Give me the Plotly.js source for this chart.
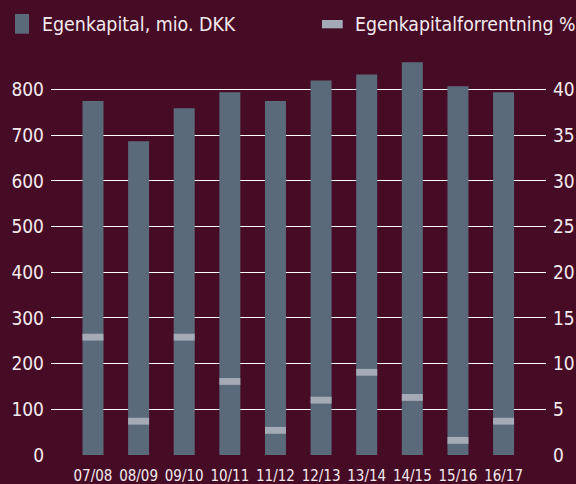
<!DOCTYPE html>
<html>
<head>
<meta charset="utf-8">
<script src="https://cdn.plot.ly/plotly-3.0.1.min.js"></script>
<style>html,body{margin:0;padding:0;background:#470c25;}#chart{width:576px;height:484px;}
#chart text{font-stretch:condensed !important;}</style>
</head>
<body>
<div id="chart"></div>
<script>
const categories = ["07/08","08/09","09/10","10/11","11/12","12/13","13/14","14/15","15/16","16/17"];
const equity = [775, 687, 759, 794, 775, 820, 833, 860, 807, 794];
const roe = [12.9, 3.7, 12.9, 8.05, 2.7, 6.0, 9.05, 6.3, 1.6, 3.7];
const leftTicks = [0,100,200,300,400,500,600,700,800];
const rightTicks = [0,5,10,15,20,25,30,35,40];
const legendLabels = ["Egenkapital, mio. DKK", "Egenkapitalforrentning %"];

const BG = "#470c25";
const BAR = "#5b6a7b";
const MARK = "#a4aab6";
const TXT = "#f3eaee";
const FONT = "'DejaVu Sans Condensed', 'DejaVu Sans', sans-serif";
const markH = 0.75;

const traces = [
  {type:"bar", x:categories, y:equity, marker:{color:BAR, line:{width:0}}, width:0.46, yaxis:"y", showlegend:false, hoverinfo:"skip"},
  {type:"bar", x:categories, y:roe.map(()=>markH), base:roe.map(v=>v-markH/2), marker:{color:MARK, line:{width:0}}, width:0.46, yaxis:"y2", showlegend:false, hoverinfo:"skip"}
];

const layout = {
  width:576, height:484,
  paper_bgcolor:BG, plot_bgcolor:BG,
  margin:{l:51, r:30, t:53, b:29, pad:0},
  barmode:"overlay",
  font:{family:FONT, color:TXT},
  xaxis:{type:"category", range:[-0.92, 9.93], showgrid:false, zeroline:false, showline:false, ticks:"", tickangle:0,
         tickfont:{size:15, color:TXT, family:FONT}, ticklabelstandoff:10},
  yaxis:{range:[0,880], tickvals:leftTicks, showgrid:true, gridcolor:"#ffffff", gridwidth:1, zeroline:false, showline:false, ticks:"",
         tickfont:{size:19, color:TXT, family:FONT}, ticklabelstandoff:6},
  yaxis2:{range:[0,44], tickvals:rightTicks, overlaying:"y", side:"right", showgrid:false, zeroline:false, showline:false, ticks:"",
          tickfont:{size:19, color:TXT, family:FONT}, ticklabelstandoff:6},
  shapes:[
    {type:"rect", xref:"paper", yref:"paper", x0:-0.0727, x1:-0.0444, y0:1.048, y1:1.097, fillcolor:BAR, line:{width:0}},
    {type:"rect", xref:"paper", yref:"paper", x0:0.5475, x1:0.5893, y0:1.0614, y1:1.0821, fillcolor:MARK, line:{width:0}}
  ],
  annotations:[
    {xref:"paper", yref:"paper", x:-0.0228, y:1.0697, xanchor:"left", yanchor:"middle", text:legendLabels[0], showarrow:false, font:{size:19.4, color:TXT, family:FONT}},
    {xref:"paper", yref:"paper", x:0.6101, y:1.0697, xanchor:"left", yanchor:"middle", text:legendLabels[1], showarrow:false, font:{size:19.3, color:TXT, family:FONT}}
  ]
};

Plotly.newPlot("chart", traces, layout, {displayModeBar:false, staticPlot:true});
</script>
</body>
</html>
